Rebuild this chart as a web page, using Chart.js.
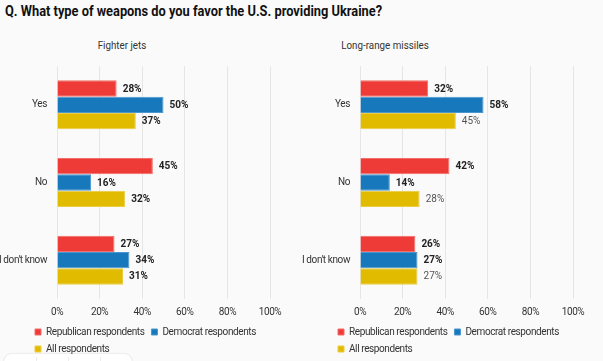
<!DOCTYPE html>
<html>
<head>
<meta charset="utf-8">
<script src="https://cdn.jsdelivr.net/npm/chart.js@4.4.1/dist/chart.umd.min.js"></script>
<style>
  html, body { margin: 0; padding: 0; width: 603px; height: 361px; overflow: hidden; background: #fafafa; font-family: Roboto, "Noto Sans", sans-serif; }
  #title { position: absolute; left: 5px; top: 2px; font-size: 15px; font-weight: 700; color: #111; white-space: nowrap; transform: scaleX(0.855); transform-origin: 0 0; }
  .sub { position: absolute; top: 39px; font-size: 11px; color: #333; white-space: nowrap; transform: translateX(-50%) scaleX(0.89); }
  .wrap { position: absolute; top: 50px; width: 300px; height: 315px; }
  #overlay { position: absolute; left: 4px; top: 354px; width: 128px; height: 20px; background: #fff; border-radius: 8px; box-shadow: 0 0 2px rgba(0,0,0,0.18); }
  #overlay span { position: absolute; top: 3px; width: 1px; height: 20px; background: #ececec; }
</style>
</head>
<body>
<div id="title">Q. What type of weapons do you favor the U.S. providing Ukraine?</div>
<div class="sub" style="left:122px">Fighter jets</div>
<div class="sub" style="left:385px">Long-range missiles</div>
<div class="wrap" style="left:-3px"><canvas id="c1" width="300" height="315"></canvas></div>
<div class="wrap" style="left:300px"><canvas id="c2" width="300" height="315"></canvas></div>
<div id="overlay"><span style="left:32px"></span><span style="left:64px"></span><span style="left:96px"></span></div>
<script>
const categories = ["Yes", "No", "I don't know"];
const seriesNames = ["Republican respondents", "Democrat respondents", "All respondents"];
const jetsRepublican = [28, 45, 27];
const jetsDemocrat = [50, 16, 34];
const jetsAll = [37, 32, 31];
const missilesRepublican = [32, 42, 26];
const missilesDemocrat = [58, 14, 27];
const missilesAll = [45, 28, 27];
const xTicks = [0, 20, 40, 60, 80, 100];

const colors = ["#ee3b37", "#1878bc", "#e1bb00"];
const borders = ["#f36d69", "#4a97cf", "#eccc40"];

function makeChart(id, values, allLabelStyle) {
  const labelPlugin = {
    id: 'valueLabels',
    afterInit(chart) {
      chart.ctx.letterSpacing = '-0.4px';
    },
    beforeUpdate(chart) {
      chart.ctx.letterSpacing = '-0.4px';
    },
    beforeDraw(chart) {
      chart.ctx.letterSpacing = '-0.4px';
    },
    afterLayout(chart) {
      chart.legend.left = 31;
      chart.legend.right = 300;
    },
    afterDatasetsDraw(chart) {
      const ctx = chart.ctx;
      ctx.save();
      ctx.letterSpacing = '0px';
      ctx.textBaseline = 'middle';
      ctx.textAlign = 'left';
      chart.data.datasets.forEach((ds, di) => {
        const meta = chart.getDatasetMeta(di);
        const bold = di < 2 || allLabelStyle.bold;
        ctx.font = (bold ? '700 ' : '400 ') + '10px Roboto';
        ctx.fillStyle = bold ? '#222' : '#555';
        meta.data.forEach((el, i) => {
          ctx.fillText(ds.data[i] + '%', el.x + 6, el.y + 0.5);
        });
      });
      ctx.restore();
    }
  };
  return new Chart(document.getElementById(id), {
    type: 'bar',
    data: {
      labels: categories,
      datasets: values.map((v, i) => ({
        label: seriesNames[i],
        data: v,
        backgroundColor: colors[i],
        borderColor: borders[i],
        borderWidth: 1,
        categoryPercentage: 0.63,
        barPercentage: 1.0
      }))
    },
    options: {
      indexAxis: 'y',
      responsive: false,
      animation: false,
      devicePixelRatio: 1,
      layout: { padding: { left: 0, right: 27, top: 15, bottom: 1 } },
      scales: {
        x: {
          min: 0, max: 100,
          afterBuildTicks(scale) { scale.ticks = xTicks.map(v => ({ value: v })); },
          afterFit(scale) { scale.height = 21; },
          grid: { color: '#e6e6e6', drawTicks: false, lineWidth: 1 },
          border: { display: false },
          ticks: { padding: 7, color: '#333', font: { family: 'Roboto', size: 10 }, callback: v => v + '%' }
        },
        y: {
          afterFit(scale) { scale.width = 60; },
          grid: { display: false, drawTicks: false },
          border: { display: false },
          ticks: { padding: 10, color: '#333', font: { family: 'Roboto', size: 10 } }
        }
      },
      plugins: {
        legend: {
          position: 'bottom',
          align: 'start',
          labels: { boxWidth: 6, boxHeight: 6, padding: 7, color: '#333', font: { family: 'Roboto', size: 10 } }
        },
        tooltip: { enabled: false },
        title: { display: false }
      }
    },
    plugins: [labelPlugin]
  });
}

makeChart('c1', [jetsRepublican, jetsDemocrat, jetsAll], { bold: true });
makeChart('c2', [missilesRepublican, missilesDemocrat, missilesAll], { bold: false });
</script>
</body>
</html>
